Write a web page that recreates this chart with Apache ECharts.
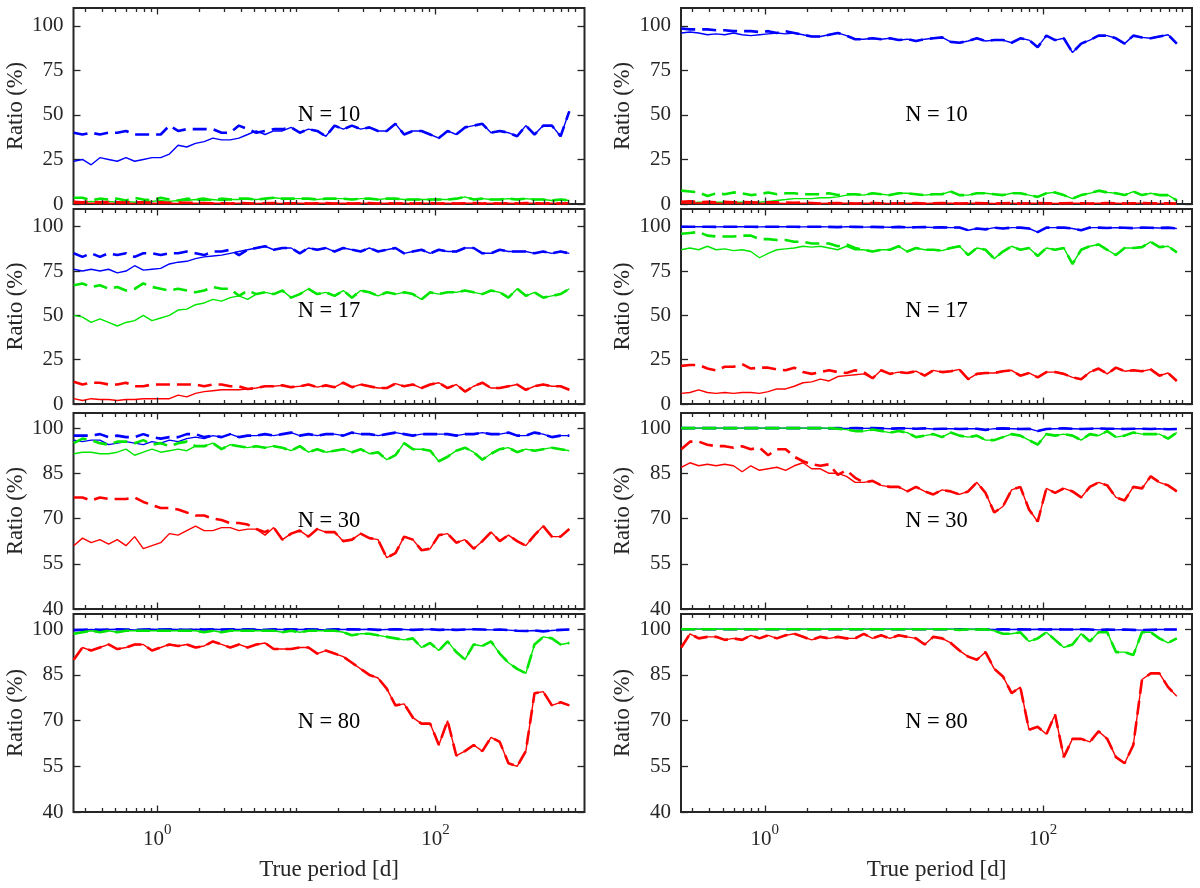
<!DOCTYPE html>
<html><head><meta charset="utf-8">
<script src="https://cdn.jsdelivr.net/npm/echarts@6/dist/echarts.min.js"></script>
<style>html,body{margin:0;padding:0;background:#fff}#c{width:1200px;height:888px}</style>
</head><body><div id="c"></div>
<script>
// ---------- DATA ----------
const periods = [0.251,0.290,0.335,0.387,0.447,0.516,0.596,0.688,0.794,0.917,
1.059,1.223,1.413,1.631,1.884,2.175,2.512,2.901,3.350,3.868,
4.467,5.158,5.957,6.879,7.943,9.173,10.59,12.23,14.13,16.31,
18.84,21.75,25.12,29.01,33.50,38.68,44.67,51.58,59.57,68.79,
79.43,91.73,105.9,122.3,141.3,163.1,188.4,217.5,251.2,290.1,
335.0,386.8,446.7,515.8,595.7,687.9,794.3,917.3];

const xMajorTicks = [1, 100];
const xMinorTicks = [0.3,0.4,0.5,0.6,0.7,0.8,0.9,2,3,4,5,6,7,8,9,10,20,30,40,50,60,70,80,90,200,300,400,500,600,700,800,900,1000];
const xLabelValues = [1, 100];
const yTicksTop = [0,25,50,75,100];
const yTicksBottom = [40,55,70,85,100];
const yRangeTop = [0,110];
const yRangeBottom = [40,105];
const panelLabels = ['N = 10','N = 17','N = 30','N = 80'];

// Left column, N = 10
const L1_blue = [24,25,22,26,25,24,26,24,25,26,
26,28,33,32,34,35,37,36,36,37,
39,41,39,41,41,43,40,42,41,38,
44,42,44,42,43,41,41,45,39,41,
41,39,37,41,39,43,44,45,40,41,
40,38,44,39,44,44,38,52];
const L1_blueDash = [40,39,40,39,40,40,41,39,39,39,39,44,41,42,42,42,42,40,40,44,42,40,41,42,42];
const L1_green = [1,1,1.5,1,1.5,1,1.5,1,1.5,1.5,
2,1.5,2,2,2.5,2,2.5,2,2.5,2.5,
3,2.5,3,3.5,3,3,3,3,2.5,3,
3,3,2.5,3,3,2.5,3,3,2.5,2.5,
2.5,2.5,2.5,2.5,3,4,2.5,3,2.5,2.5,
3,2.5,3,2.5,2.5,2,2.5,2];
const L1_greenDash = [3.5,3.5,2,3,2.5,3,2,3.5,2.5,2,3.5,2.5,2,3,2.5,3,2,3,2.5,3];
const L1_red = [0.4,0.3,0.5,0.3,0.4,0.3,0.4,0.3,0.3,0.4,
0.3,0.4,0.3,0.5,0.4,0.3,0.4,0.4,0.3,0.5,
0.4,0.3,0.4,0.5,0.3,0.4,0.4,0.3,0.4,0.5,
0.3,0.4,0.3,0.4,0.5,0.3,0.4,0.3,0.4,0.3,
0.4,0.5,0.3,0.4,0.3,0.4,0.5,0.3,0.4,0.3,
0.4,0.3,0.5,0.4,0.3,0.4,0.3,0.4];
const L1_redDash = [1.2,1.0,1.3,0.9,1.1,1.0,0.8,1.0,0.9,0.8,0.9,0.7,0.8,0.7,0.6,0.6];

// Left column, N = 17
const L2_blue = [76,75,76,75,76,74,75,78,75.5,76,
76.5,79,80,80.5,82,83,83.5,84,85,86,
87,88,89,87,88,88,85,88,87,88,
86,88,87,86,88,86,87,88,85,86,
87,85,87,86,86,88,88,85,85,87,
86,86,86,85,86,85,86,85];
const L2_blueDash = [85,83,85,83,85,84,85,83,85,85,84,85,85,86,85,84,86,86,87,84];
const L2_green = [50,49,46,48,46,44,46,47,50,47,
48.5,50,53,53.5,56,57,59,58,60,61,
59,62,63,62,64,60,62,65,62,63,
61,64,60,64,63,61,63,62,63,62,
59,63,62,63,63,64,63,62,64,63,
60,65,61,63,60,61,62,65];
const L2_greenDash = [67,68,66,67,65,66,64,65,68,66,65,64,65,64,63,64,66,65,65,61,64];
const L2_red = [3,2,3,2.5,2.5,2,2.5,2.5,3,3,
3,3,5,4,6,7,7.5,8,8,8,
8.5,9,10,10,10.5,9.5,10,11,9.5,10.5,
9.5,12,9.5,11,10,9,9,11.5,10,11,
9,11,12,9,11,7,10,12,9,9,
10,11,8,10,11,10,10,8];
const L2_redDash = [12.5,11,12,12,11,11,12,10,10,11,11,11,11,11,11,10,11,11,10,10];

// Left column, N = 30
const L3_blue = [96,95.5,96,96,94.5,95,95.5,95,94.5,95.5,
95,96,95.5,96.5,97,96.5,97.5,97,98,97,
97.5,97.5,98,97.5,98,98.5,97.5,98,97.5,98,
98,97.5,98.5,98,98,97.5,98,98.5,98,97.5,
98,98,98,98,97.5,98,98,98.5,98,98,
98.5,97.5,97.5,98.5,98,97,97.5,97.5];
const L3_blueDash = [97.5,97.5,97.5,98,97,97.5,97,97,98,97,96.5,97,97,98,98,97];
const L3_green = [91.5,92,92,91.5,91.5,92,93,91,92,93,
92,92.5,93,92.5,94,94,95,93,94.5,94,
93.5,94,93.5,94,93.5,92.5,94,92,93,92,
92.5,93,92,93,91.5,92,89.5,91,95,93,
93,92.5,89,90.5,92.5,93.5,92,89.5,91.5,93,
93.5,92,93,92.5,93,93.5,93,92.5];
const L3_greenDash = [95,96.5,96,95,94.5,95.5,95.5,95,96,94.5,95,94,95,95.5];
const L3_red = [61,63.5,62,63,61.5,63,61,64,60,61,
62,65,64.5,66,67.5,66,66,67,67,66,
66.5,66.5,64.5,67,63,65,66,64,66.5,65.5,
65.5,62.5,63,65,63.5,63,57,58.5,64,63,
59.5,60,64.5,65,62,63,60,62.5,65.5,62.5,
64.5,62.5,61,64.5,67.5,64,64,66.5];
const L3_redDash = [77,77,76,77,76.5,76.5,76.5,77,75.5,74.5,73.5,73.5,73,72,71,71,70,69.5,68.5,68.5,68,66.5,65.5];

// Left column, N = 80
const L4_blue = [99.7,99.8,99.9,99.8,99.9,100,99.9,99.8,99.9,100,
99.9,100,99.9,99.8,100,99.9,100,99.9,100,99.9,
100,99.9,99.8,100,99.9,100,99.9,100,99.9,99.8,
100,99.9,100,99.9,100,99.8,99.9,100,99.9,99.8,
99.9,100,99.8,99.9,99.8,99.9,100,99.9,99.8,99.9,
99.7,99.5,99.4,99.6,99.3,99.6,99.8,99.9];
const L4_green = [98.5,99,99.5,99,99.5,99,99.5,99.5,99.5,99.5,
99.5,99.5,99.5,99.5,99.5,99,99.5,99,99.5,99.5,
99.5,99.5,99.5,99.5,99,99.5,99,99.5,99.5,99.5,
99.5,99,98,98.5,98.5,98,97.5,97,96.5,97,
94,95.5,93,96,92.5,90,95,94.5,96,92,
89,87,85.5,95,97.5,97,95,95.5];
const L4_red = [90,94,93,94,95,93.5,94,95,95,93,
94,95,94.5,95,94,94.5,96,95,94,95,
94,95,95.5,93.5,93.5,93.5,94,94,92,93,
92,91,89,87,85,84,80.5,75,75.5,71,
69,69,62,70,58.5,60,62,60,64.5,63,
56,55,60,79,79.5,75,76,75];

// Right column, N = 10
const R1_blue = [96,96.5,96,95,95.5,95,96,95,94.5,95,
95.5,96,95.5,96,95,94,94,95,96,94.5,
92.5,92.5,93,92.5,93,92,92.5,91.5,92.5,93,
93.5,91,90.5,91.5,93,91.5,92,92,90.5,93,
92,88,94.5,92,93,85,90,92,94.5,94.5,
93,90,94.5,93.5,93,94,95,90];
const R1_blueDash = [98.5,98,98,98,97.5,97.5,97,97,97,96.5,97,96,97];
const R1_green = [1,0.5,1,1,1,1,1,1,1,1,
1.5,2,2.5,3,3,3,3.5,3.5,4,5,
5.5,5,6,5.5,5,6,6,5.5,5,5.5,
5.5,7,5,5,6,6,5.5,5,6,6,
5,4,6,6.5,5,3,5,6,7.5,6.5,
6,5,7,5,6,5,5,2];
const R1_greenDash = [7.5,7,6.5,4.5,6,5.5,6.5,6,5,5.5,6.5,5.5,6,6,5.5,5.5,5.5,6,5,5.5];
const R1_red = [0.5,0.4,0.6,0.4,0.5,0.3,0.4,0.5,0.4,0.3,
0.4,0.5,0.3,0.4,0.4,0.5,0.3,0.4,0.5,0.4,
0.3,0.4,0.5,0.4,0.3,0.4,0.4,0.5,0.3,0.4,
0.5,0.4,0.3,0.4,0.5,0.4,0.3,0.4,0.5,0.3,
0.4,0.5,0.4,0.3,0.4,0.5,0.4,0.3,0.4,0.5,
0.4,0.3,0.4,0.5,0.4,0.3,0.4,0.3];
const R1_redDash = [1.2,1.5,1,1.3,1,1.2,0.9,1.1,1,0.8,1,0.9,0.8,0.7,0.8,0.6];

// Right column, N = 17
const R2_blue = [100,100,100,100,99.9,100,100,100,100,99.9,
100,100,100,100,99.9,100,100,99.9,99.8,100,
99.9,99.8,99.9,99.8,99.7,99.9,99.6,99.7,99.8,99.6,
99.7,99.5,99.6,98,99,98.5,99.5,99,99.5,99.5,
99,97,99.5,99.5,99.5,99,98,99.5,99.5,99.3,
99.5,99.4,99.2,99.5,99.4,99.3,99.5,99];
const R2_green = [87,88,87,89,87,87.5,86.5,87,86,82.5,
85,87,87.5,88,89,88.5,89,88,87,89,
87,87,86,87,87,89,86,88,87,87,
86.5,88,89,84,88,87,82,86,89,87,
88,83.5,88,87,88,79,87,89,90,87,
84,88,88,88.5,91.5,88.5,89,85.5];
const R2_greenDash = [96,96.5,97,95,94.5,94.5,94.5,95,95,93,93,92.5,92.5,91.5,91.5,90.5,90.5,90.5,89,90,88];
const R2_red = [6,6.5,8,6.5,6,6.5,6,6.5,6.5,6,
7,8.5,8.5,10,12,12.5,14,13,15.5,16,
16.5,17,14.5,19,17,18,17.5,18.5,16,19,
18,18.5,19.5,14,17,17.5,17.5,18.5,19,16,
17.5,15,18,18,17,15,14,18,20,17,
20.5,18.5,19,18.5,19.5,16,17.5,13];
const R2_redDash = [21.5,22,22,20,19,21,21,22.5,20,20.5,20.5,19.5,19,20.5,18,17,18,19,18,17.5,19,18];

// Right column, N = 30
const R3_blue = [100,100,100,100,100,100,100,100,100,100,
100,100,100,100,100,100,100,99.9,100,99.9,
100,99.9,100,99.9,99.8,99.9,99.9,99.8,99.9,99.7,
99.8,99.8,99.7,99.8,99.8,99.4,99.8,99.9,99.8,99.7,
99.8,99,99.7,99.8,99.9,99.8,99.7,99.8,99.9,99.8,
99.8,99.7,99.8,99.8,99.7,99.8,99.6,99.7];
const R3_green = [100,100,100,100,100,100,100,100,100,100,
100,100,100,100,100,100,100,100,99.8,99.5,
99,99,99.5,99,98.5,99,98.5,97,97.5,98,
97,98.5,97.5,97,97.5,96,96,97,98,97.5,
96,94.5,98,97.5,98,97.5,96,98,97.5,99,
97,97.5,98.5,98,98,98,96.5,98.5];
const R3_red = [87,88.5,87.5,88,87.5,88,87.5,85.5,87.5,86,
86.5,87,86,87.5,88.5,86.5,86.5,85,85,84,
82,82,82.5,81,80.5,80.5,79,80.5,79,78,
79.5,79,78,79,82,78.5,72,74,79.5,80.5,
73,69,80,78.5,80,79,77,80.5,82,81,
77,76,80.5,80,84,82,81,79];
const R3_redDash = [93,95.5,95.5,94.5,94,94,93.5,94,93,93.5,91,93,93,90.5,89,88,87.5,88,84.5,86,83.5,82];

// Right column, N = 80
const R4_blue = [100,100,100,100,100,100,100,100,100,100,
100,100,100,100,100,100,100,100,100,100,
100,100,100,100,100,100,100,100,100,100,
100,100,100,100,100,100,99.9,100,99.9,100,
99.9,100,99.9,100,99.9,99.9,100,99.9,99.8,99.9,
99.8,99.9,99.8,99.7,99.8,99.9,99.9,99.9];
const R4_green = [100,100,100,100,100,100,100,100,100,100,
100,100,100,100,100,100,100,100,100,100,
100,100,100,100,100,100,100,100,100,100,
100,100,99.8,100,99.9,100,99.5,98.5,98.5,99,
96,97,99,96.5,94,95,98.5,96,99,99,
92.5,92.5,91.5,99,99,97,95.5,97];
const R4_red = [94,98.5,97,97.5,97.5,96.5,97,96.5,98,97,
98,97,98,98.5,97.5,96.5,97.5,97,97.5,97,
97,98.5,97,98,97,98,97.5,97,95,97.5,
97,95.5,93,91,90,92.5,87,84.5,79,81,
67,68,65.5,72,58,64,64,63,66.5,64,
58,56,62,83.5,85.5,85.5,81,78];

// ---------- STYLE / LAYOUT ----------
const FONT = "'Liberation Serif','Times New Roman',serif";
const AX = '#262626';
const BLUE = '#0000ff', GREEN = '#00e600', RED = '#ff0000';
const colLeft = [73.5, 681];
const gridW = 511;
const rowTop = [8, 209, 413, 614];
const rowH = [196, 195, 196, 198];
const nLabelY = [115, 311, 521, 722];

// panel definitions: [solid, dashedHead, colour]
const panelDefs = [
  {col:0,row:0,lines:[[L1_blue,L1_blueDash,BLUE],[L1_green,L1_greenDash,GREEN],[L1_red,L1_redDash,RED]]},
  {col:0,row:1,lines:[[L2_blue,L2_blueDash,BLUE],[L2_green,L2_greenDash,GREEN],[L2_red,L2_redDash,RED]]},
  {col:0,row:2,lines:[[L3_blue,L3_blueDash,BLUE],[L3_green,L3_greenDash,GREEN],[L3_red,L3_redDash,RED]]},
  {col:0,row:3,lines:[[L4_blue,[],BLUE],[L4_green,[],GREEN],[L4_red,[],RED]]},
  {col:1,row:0,lines:[[R1_blue,R1_blueDash,BLUE],[R1_green,R1_greenDash,GREEN],[R1_red,R1_redDash,RED]]},
  {col:1,row:1,lines:[[R2_blue,[],BLUE],[R2_green,R2_greenDash,GREEN],[R2_red,R2_redDash,RED]]},
  {col:1,row:2,lines:[[R3_blue,[],BLUE],[R3_green,[],GREEN],[R3_red,R3_redDash,RED]]},
  {col:1,row:3,lines:[[R4_blue,[],BLUE],[R4_green,[],GREEN],[R4_red,[],RED]]}
];

function tickRender(params, api) {
  const pt = api.coord([api.value(0), api.value(1)]);
  const cs = params.coordSys;
  const len = api.value(2) ? 6.5 : 4;
  const x = Math.round(pt[0]) + 0.5;
  const yb = cs.y + cs.height, yt = cs.y;
  return {type:'group', children:[
    {type:'line', shape:{x1:x,y1:yb,x2:x,y2:yb-len}, style:{stroke:AX,lineWidth:1.3}},
    {type:'line', shape:{x1:x,y1:yt,x2:x,y2:yt+len}, style:{stroke:AX,lineWidth:1.3}}
  ]};
}

const grids=[], xAxes=[], yAxes=[], series=[], graphics=[];
const bad = [];
panelDefs.forEach((p,i)=>{
  const left = colLeft[p.col], top = rowTop[p.row], h = rowH[p.row];
  const yr = p.row < 2 ? yRangeTop : yRangeBottom;
  const ticks = p.row < 2 ? yTicksTop : yTicksBottom;
  const bottomRow = p.row === 3;
  grids.push({left:left, top:top, width:gridW, height:h, show:true, borderColor:AX, borderWidth:2, backgroundColor:'transparent'});
  xAxes.push({
    gridIndex:i, type:'log', logBase:10, min:0.25, max:1180,
    axisLine:{show:false}, axisTick:{show:false}, splitLine:{show:false}, minorTick:{show:false},
    axisLabel:{show:bottomRow, interval:0, margin:11,
      formatter:function(v){ if (xLabelValues.indexOf(Math.round(v*1000)/1000) < 0) return ''; return '{b|10}{s|' + Math.round(Math.log10(v)) + '}'; },
      rich:{b:{fontFamily:FONT,fontSize:21,color:AX,lineHeight:32}, s:{fontFamily:FONT,fontSize:15,color:AX,lineHeight:15,verticalAlign:'top'}}},
    name: bottomRow ? 'True period [d]' : '', nameLocation:'middle', nameGap:46,
    nameTextStyle:{fontFamily:FONT,fontSize:23,color:AX}
  });
  yAxes.push({
    gridIndex:i, type:'value', min:yr[0], max:yr[1], position:'left',
    axisLine:{show:false}, splitLine:{show:false},
    axisTick:{show:true, inside:true, length:7, customValues:ticks, lineStyle:{color:AX,width:1.3}},
    axisLabel:{customValues:ticks, margin:10, fontFamily:FONT, fontSize:21, color:AX},
    name:'Ratio (%)', nameLocation:'middle', nameGap:46, nameRotate:90,
    nameTextStyle:{fontFamily:FONT,fontSize:22.5,color:AX}
  });
  yAxes.push({
    gridIndex:i, type:'value', min:yr[0], max:yr[1], position:'right',
    axisLine:{show:false}, splitLine:{show:false},
    axisTick:{show:true, inside:true, length:7, customValues:ticks, lineStyle:{color:AX,width:1.3}},
    axisLabel:{show:false}
  });
  p.lines.forEach(([solid, head, color])=>{
    if (solid.length !== periods.length) bad.push('panel'+i+' len '+solid.length);
    const dashed = head.concat(solid.slice(head.length));
    series.push({type:'line', xAxisIndex:i, yAxisIndex:2*i, data:periods.map((x,k)=>[x, solid[k]]),
      symbol:'none', silent:true, lineStyle:{color:color, width:1.4}, z:3});
    series.push({type:'line', xAxisIndex:i, yAxisIndex:2*i, data:periods.map((x,k)=>[x, dashed[k]]),
      symbol:'none', silent:true, lineStyle:{color:color, width:2.6, type:[14,7]}, z:3});
  });
  const tickData = xMinorTicks.map(v=>[v, yr[0], 0]).concat(xMajorTicks.map(v=>[v, yr[0], 1]));
  series.push({type:'custom', xAxisIndex:i, yAxisIndex:2*i, data:tickData, renderItem:tickRender,
    encode:{x:0,y:1}, silent:true, clip:false, z:5});
  graphics.push({type:'text', x:left + gridW/2, y:nLabelY[p.row],
    style:{text:panelLabels[p.row], fontFamily:FONT, fontSize:22.5, fill:'#000',
      align:'center', verticalAlign:'middle', textAlign:'center', textVerticalAlign:'middle'}});
});
if (bad.length) graphics.push({type:'text', x:300, y:440, style:{text:bad.join(' | '), fontSize:16, fill:'#f0f'}});

const chart = echarts.init(document.getElementById('c'), null, {renderer:'canvas'});
chart.setOption({
  animation:false,
  backgroundColor:'#ffffff',
  grid:grids, xAxis:xAxes, yAxis:yAxes, series:series, graphic:graphics
});
</script></body></html>
